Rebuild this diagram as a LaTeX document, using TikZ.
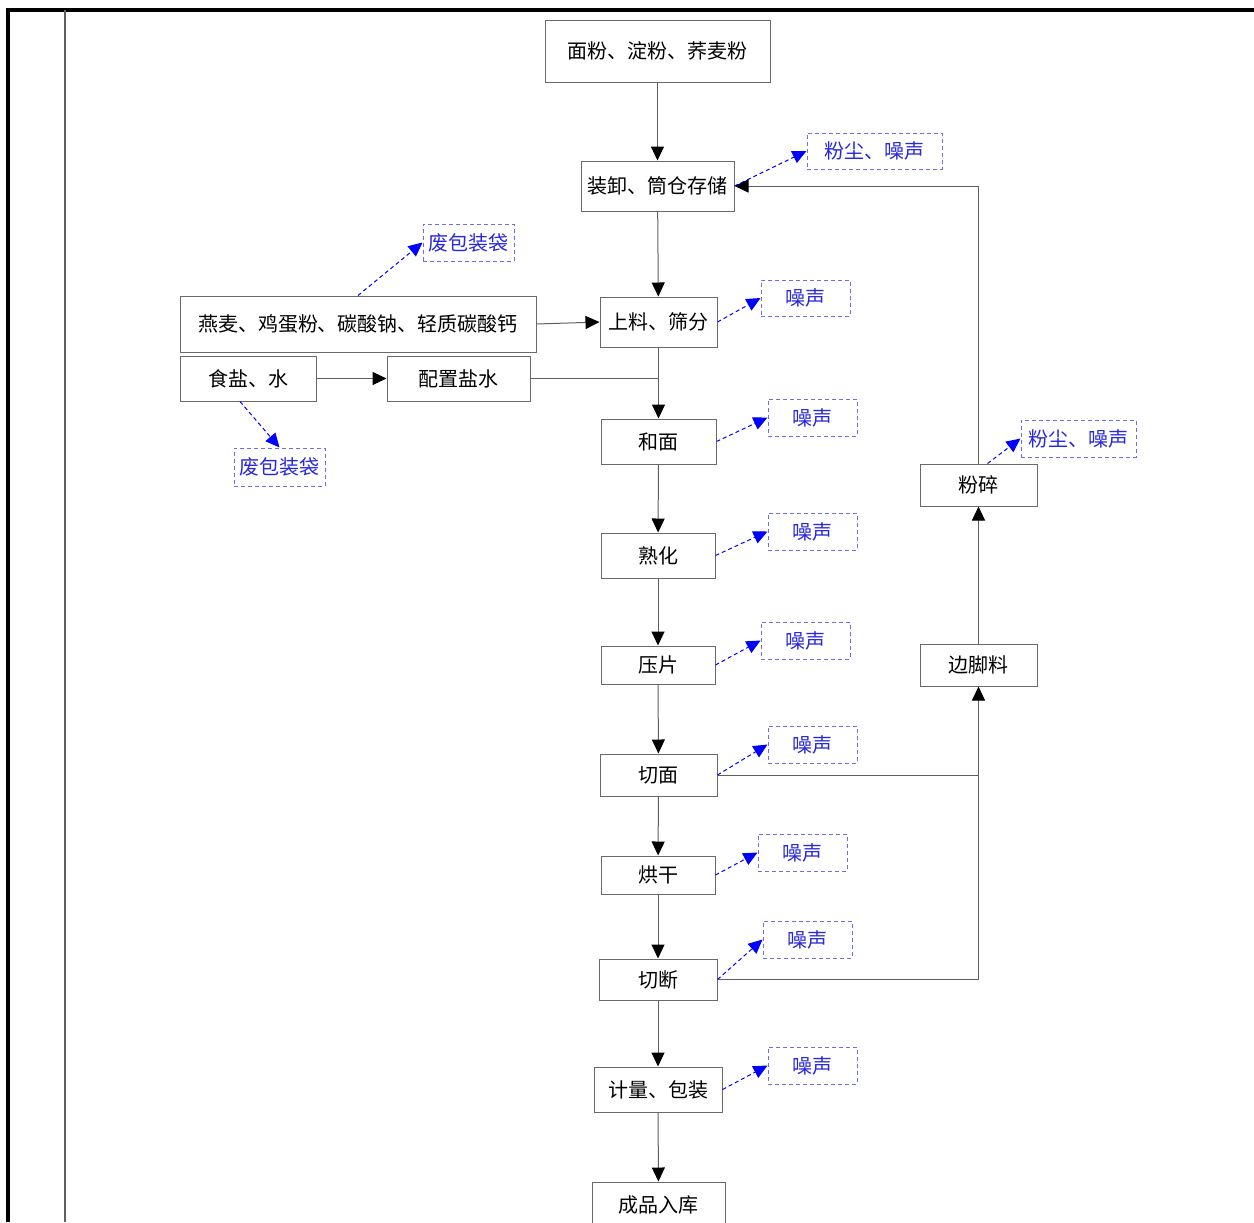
\documentclass[tikz,border=0pt]{standalone}
\usepackage{fontspec}
\newfontfamily\cjk{Noto Sans CJK SC}
\usepackage{xcolor}
\definecolor{linegray}{RGB}{95, 95, 95}
\definecolor{boxgray}{RGB}{105, 105, 105}
\definecolor{wasteblue}{RGB}{110, 110, 235}
\definecolor{textblue}{RGB}{40, 40, 220}
\usepackage{tikz}
\usetikzlibrary{arrows.meta}

\begin{document}
\begin{tikzpicture}[x=0.5pt, y=-0.5pt,
  procbox/.style={draw=boxgray, fill=white, font=\cjk\fontsize{10pt}{12pt}\selectfont, inner sep=0pt, line width=0.5pt},
  wastebox/.style={draw=wasteblue, dash pattern=on 2pt off 1.5pt, fill=white, text=textblue, font=\cjk\fontsize{10pt}{12pt}\selectfont, inner sep=0pt, line width=0.5pt},
  arrow/.style={-{Triangle[length=7pt, width=6.5pt, color=black]}, line width=0.5pt, draw=linegray},
  emit/.style={-{Triangle[length=7pt, width=6.5pt, color=blue]}, dash pattern=on 2pt off 1.5pt, line width=0.5pt, draw=blue}
]
\useasboundingbox (0,0) rectangle (1254,1222);

% frame
\draw[line width=2pt] (8,1222) -- (8,10) -- (1254,10);
\draw[line width=0.6pt, linegray] (65,10) -- (65,1222);

% main line
\node[procbox, minimum width=112.5pt, minimum height=31pt] (flour) at (657.5,51) {面粉、淀粉、荞麦粉};
\node[procbox, minimum width=76.5pt, minimum height=25pt] (store) at (657.5,186) {装卸、筒仓存储};
\node[procbox, minimum width=58.5pt, minimum height=25pt] (sieve) at (658.5,322) {上料、筛分};
\node[procbox, minimum width=57.5pt, minimum height=22.5pt] (knead) at (658.5,441.5) {和面};
\node[procbox, minimum width=57pt, minimum height=22.5pt] (ripen) at (658,555.5) {熟化};
\node[procbox, minimum width=57pt, minimum height=19pt] (press) at (658,665) {压片};
\node[procbox, minimum width=58.5pt, minimum height=21pt] (slit) at (658.5,775) {切面};
\node[procbox, minimum width=57pt, minimum height=19pt] (dry) at (658,875) {烘干};
\node[procbox, minimum width=59pt, minimum height=20.5pt] (cutoff) at (658,979.5) {切断};
\node[procbox, minimum width=64pt, minimum height=22.5pt] (pack) at (658,1089.5) {计量、包装};
\node[procbox, minimum width=66.5pt, minimum height=22.5pt] (store2) at (658.5,1204.5) {成品入库};

% side inputs
\node[procbox, minimum width=178pt, minimum height=28pt] (oats) at (358,324) {燕麦、鸡蛋粉、碳酸钠、轻质碳酸钙};
\node[procbox, minimum width=68pt, minimum height=22.5pt] (salt) at (248,378.5) {食盐、水};
\node[procbox, minimum width=71.5pt, minimum height=22.5pt] (brine) at (458.5,378.5) {配置盐水};

% scrap loop
\node[procbox, minimum width=58.5pt, minimum height=21pt] (crush) at (978.5,485) {粉碎};
\node[procbox, minimum width=58.5pt, minimum height=21pt] (scrap) at (978.5,665) {边脚料};

% emissions
\node[wastebox, minimum width=67.5pt, minimum height=18pt] (w_store) at (874.5,151) {粉尘、噪声};
\node[wastebox, minimum width=45.5pt, minimum height=18.5pt] (w_oats) at (468.5,242.5) {废包装袋};
\node[wastebox, minimum width=45.5pt, minimum height=19pt] (w_salt) at (279.5,467) {废包装袋};
\node[wastebox, minimum width=44.5pt, minimum height=18pt] (w_sieve) at (805.5,298) {噪声};
\node[wastebox, minimum width=44.5pt, minimum height=18.5pt] (w_knead) at (812.5,417.5) {噪声};
\node[wastebox, minimum width=44.5pt, minimum height=18.5pt] (w_ripen) at (812.5,531.5) {噪声};
\node[wastebox, minimum width=44.5pt, minimum height=18.5pt] (w_press) at (805.5,640.5) {噪声};
\node[wastebox, minimum width=44.5pt, minimum height=18.5pt] (w_slit) at (812.5,744.5) {噪声};
\node[wastebox, minimum width=44.5pt, minimum height=18.5pt] (w_dry) at (802.5,852.5) {噪声};
\node[wastebox, minimum width=44.5pt, minimum height=18.5pt] (w_cutoff) at (807.5,939.5) {噪声};
\node[wastebox, minimum width=44.5pt, minimum height=18.5pt] (w_pack) at (812.5,1065.5) {噪声};
\node[wastebox, minimum width=57.5pt, minimum height=18.5pt] (w_crush) at (1078.5,438.5) {粉尘、噪声};

% material flow
\draw[arrow] (flour) -- (store);
\draw[arrow] (store) -- (sieve);
\draw[arrow] (oats.east) -- (sieve.west);
\draw[arrow] (salt) -- (brine);
\coordinate (mix) at (sieve.south |- brine.east);
\draw[line width=0.5pt, linegray] (brine.east) -- (mix);
\draw[arrow] (sieve) -- (knead);
\draw[arrow] (knead) -- (ripen);
\draw[arrow] (ripen) -- (press);
\draw[arrow] (press) -- (slit);
\draw[arrow] (slit) -- (dry);
\draw[arrow] (dry) -- (cutoff);
\draw[arrow] (cutoff) -- (pack);
\draw[arrow] (pack) -- (store2);

% scrap return
\coordinate (join) at (scrap.south |- slit.east);
\draw[arrow] (slit.east) -- (join) -- (scrap.south);
\draw[line width=0.5pt, linegray] (cutoff.east) -| (join);
\draw[arrow] (scrap) -- (crush);
\draw[arrow] (crush.north) |- (store.east);

% emission arrows
\draw[emit] (store.east) -- (w_store.west);
\draw[emit] (oats.north) -- (w_oats.west);
\draw[emit] ([xshift=-4pt]salt.south) -- (w_salt.north);
\draw[emit] (sieve.east) -- (w_sieve.west);
\draw[emit] (knead.east) -- (w_knead.west);
\draw[emit] (ripen.east) -- (w_ripen.west);
\draw[emit] (press.east) -- (w_press.west);
\draw[emit] (slit.east) -- (w_slit.west);
\draw[emit] (dry.east) -- (w_dry.west);
\draw[emit] (cutoff.east) -- (w_cutoff.west);
\draw[emit] (pack.east) -- (w_pack.west);
\draw[emit] ([xshift=4.5pt]crush.north) -- (w_crush.west);
\end{tikzpicture}
\end{document}
